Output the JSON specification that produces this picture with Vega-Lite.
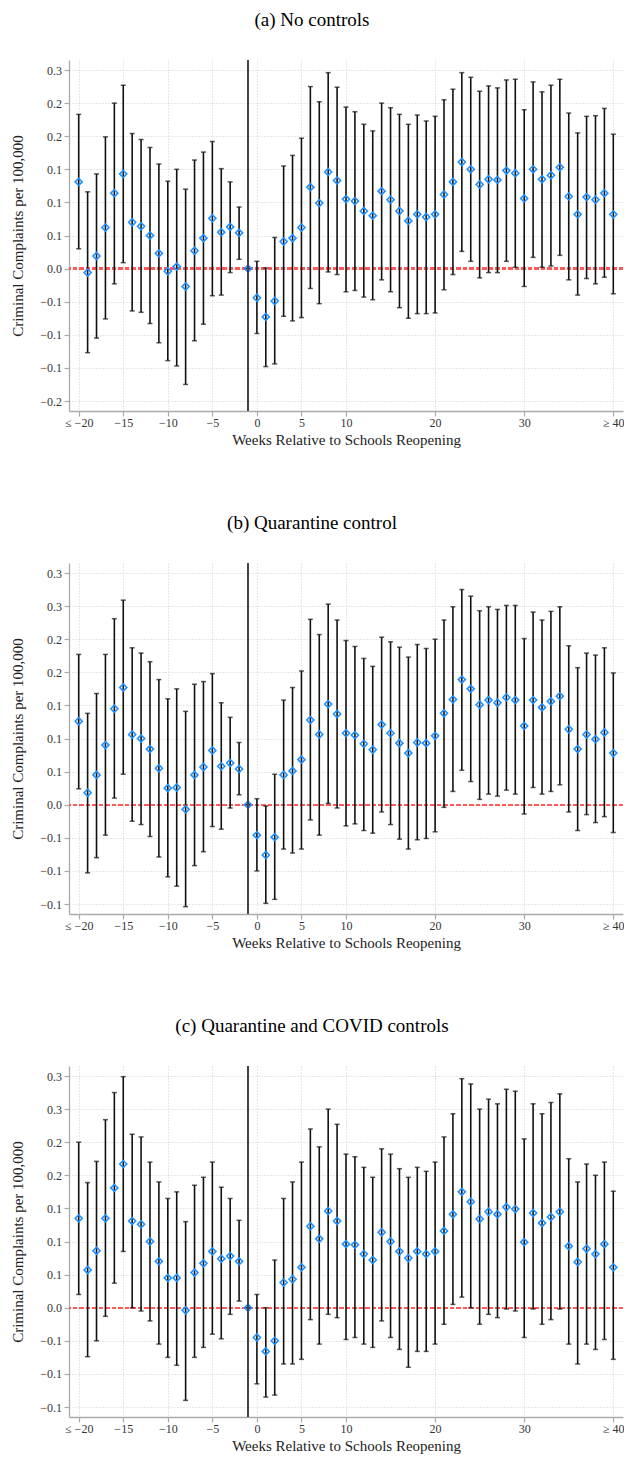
{
  "$schema": "https://vega.github.io/schema/vega-lite/v6.json",
  "padding": {"left": 10, "top": 11, "right": 0, "bottom": 0},
  "spacing": 66,
  "config": {
    "font": "Liberation Serif",
    "view": {"stroke": null},
    "axis": {
      "grid": true,
      "domainColor": "#aaaaaa",
      "domainWidth": 1.3,
      "tickColor": "#aaaaaa",
      "tickWidth": 1.2,
      "tickSize": 5,
      "gridColor": "#cfcfcf",
      "gridDash": [1, 2],
      "gridWidth": 1,
      "labelFont": "Liberation Serif",
      "labelFontSize": 12,
      "labelColor": "#333333",
      "titleFont": "Liberation Serif",
      "titleFontSize": 15,
      "titleFontWeight": "normal",
      "titleColor": "#222222",
      "labelOverlap": false,
      "tickCount": 30
    },
    "axisX": {"labelPadding": 1.5, "titlePadding": 4, "labelFlush": false},
    "axisY": {"labelPadding": 2.5, "titlePadding": 14},
    "title": {"font": "Liberation Serif", "fontSize": 19, "fontWeight": "normal", "color": "#000000", "anchor": "middle", "dx": -34, "offset": 29}
  },
  "datasets": {
    "a": [
      {"week": -20, "est": 0.131, "lo": 0.030, "hi": 0.233},
      {"week": -19, "est": -0.006, "lo": -0.127, "hi": 0.116},
      {"week": -18, "est": 0.019, "lo": -0.105, "hi": 0.143},
      {"week": -17, "est": 0.062, "lo": -0.076, "hi": 0.199},
      {"week": -16, "est": 0.114, "lo": -0.023, "hi": 0.250},
      {"week": -15, "est": 0.143, "lo": 0.009, "hi": 0.277},
      {"week": -14, "est": 0.070, "lo": -0.064, "hi": 0.204},
      {"week": -13, "est": 0.064, "lo": -0.066, "hi": 0.195},
      {"week": -12, "est": 0.050, "lo": -0.083, "hi": 0.183},
      {"week": -11, "est": 0.023, "lo": -0.112, "hi": 0.158},
      {"week": -10, "est": -0.004, "lo": -0.139, "hi": 0.132},
      {"week": -9, "est": 0.003, "lo": -0.147, "hi": 0.150},
      {"week": -8, "est": -0.027, "lo": -0.175, "hi": 0.120},
      {"week": -7, "est": 0.027, "lo": -0.109, "hi": 0.164},
      {"week": -6, "est": 0.046, "lo": -0.084, "hi": 0.176},
      {"week": -5, "est": 0.076, "lo": -0.041, "hi": 0.192},
      {"week": -4, "est": 0.055, "lo": -0.040, "hi": 0.151},
      {"week": -3, "est": 0.063, "lo": -0.006, "hi": 0.131},
      {"week": -2, "est": 0.054, "lo": 0.014, "hi": 0.093},
      {"week": -1, "est": 0, "lo": 0, "hi": 0},
      {"week": 0, "est": -0.044, "lo": -0.098, "hi": 0.011},
      {"week": 1, "est": -0.073, "lo": -0.148, "hi": 0.001},
      {"week": 2, "est": -0.049, "lo": -0.144, "hi": 0.047},
      {"week": 3, "est": 0.041, "lo": -0.072, "hi": 0.155},
      {"week": 4, "est": 0.046, "lo": -0.079, "hi": 0.171},
      {"week": 5, "est": 0.062, "lo": -0.074, "hi": 0.197},
      {"week": 6, "est": 0.123, "lo": -0.030, "hi": 0.275},
      {"week": 7, "est": 0.099, "lo": -0.053, "hi": 0.252},
      {"week": 8, "est": 0.146, "lo": -0.005, "hi": 0.296},
      {"week": 9, "est": 0.133, "lo": -0.009, "hi": 0.274},
      {"week": 10, "est": 0.105, "lo": -0.035, "hi": 0.244},
      {"week": 11, "est": 0.102, "lo": -0.033, "hi": 0.237},
      {"week": 12, "est": 0.087, "lo": -0.043, "hi": 0.218},
      {"week": 13, "est": 0.080, "lo": -0.047, "hi": 0.208},
      {"week": 14, "est": 0.117, "lo": -0.017, "hi": 0.250},
      {"week": 15, "est": 0.104, "lo": -0.035, "hi": 0.243},
      {"week": 16, "est": 0.087, "lo": -0.059, "hi": 0.233},
      {"week": 17, "est": 0.072, "lo": -0.075, "hi": 0.218},
      {"week": 18, "est": 0.082, "lo": -0.068, "hi": 0.232},
      {"week": 19, "est": 0.078, "lo": -0.068, "hi": 0.223},
      {"week": 20, "est": 0.082, "lo": -0.067, "hi": 0.230},
      {"week": 21, "est": 0.112, "lo": -0.032, "hi": 0.255},
      {"week": 22, "est": 0.131, "lo": -0.009, "hi": 0.271},
      {"week": 23, "est": 0.161, "lo": 0.026, "hi": 0.296},
      {"week": 24, "est": 0.150, "lo": 0.011, "hi": 0.289},
      {"week": 25, "est": 0.127, "lo": -0.014, "hi": 0.268},
      {"week": 26, "est": 0.135, "lo": -0.006, "hi": 0.276},
      {"week": 27, "est": 0.134, "lo": -0.006, "hi": 0.273},
      {"week": 28, "est": 0.148, "lo": 0.011, "hi": 0.285},
      {"week": 29, "est": 0.144, "lo": 0.002, "hi": 0.286},
      {"week": 30, "est": 0.106, "lo": -0.027, "hi": 0.240},
      {"week": 31, "est": 0.150, "lo": 0.017, "hi": 0.282},
      {"week": 32, "est": 0.135, "lo": 0.002, "hi": 0.267},
      {"week": 33, "est": 0.141, "lo": 0.004, "hi": 0.277},
      {"week": 34, "est": 0.153, "lo": 0.020, "hi": 0.286},
      {"week": 35, "est": 0.109, "lo": -0.017, "hi": 0.235},
      {"week": 36, "est": 0.082, "lo": -0.040, "hi": 0.205},
      {"week": 37, "est": 0.108, "lo": -0.015, "hi": 0.230},
      {"week": 38, "est": 0.104, "lo": -0.023, "hi": 0.231},
      {"week": 39, "est": 0.114, "lo": -0.013, "hi": 0.242},
      {"week": 40, "est": 0.082, "lo": -0.038, "hi": 0.203}
    ],
    "b": [
      {"week": -20, "est": 0.126, "lo": 0.024, "hi": 0.227},
      {"week": -19, "est": 0.018, "lo": -0.103, "hi": 0.138},
      {"week": -18, "est": 0.045, "lo": -0.080, "hi": 0.168},
      {"week": -17, "est": 0.090, "lo": -0.046, "hi": 0.227},
      {"week": -16, "est": 0.145, "lo": 0.010, "hi": 0.281},
      {"week": -15, "est": 0.177, "lo": 0.046, "hi": 0.309},
      {"week": -14, "est": 0.106, "lo": -0.025, "hi": 0.237},
      {"week": -13, "est": 0.100, "lo": -0.030, "hi": 0.229},
      {"week": -12, "est": 0.084, "lo": -0.048, "hi": 0.216},
      {"week": -11, "est": 0.055, "lo": -0.079, "hi": 0.189},
      {"week": -10, "est": 0.025, "lo": -0.109, "hi": 0.160},
      {"week": -9, "est": 0.026, "lo": -0.123, "hi": 0.175},
      {"week": -8, "est": -0.007, "lo": -0.154, "hi": 0.141},
      {"week": -7, "est": 0.045, "lo": -0.092, "hi": 0.182},
      {"week": -6, "est": 0.057, "lo": -0.071, "hi": 0.186},
      {"week": -5, "est": 0.082, "lo": -0.033, "hi": 0.198},
      {"week": -4, "est": 0.058, "lo": -0.037, "hi": 0.154},
      {"week": -3, "est": 0.063, "lo": -0.005, "hi": 0.132},
      {"week": -2, "est": 0.054, "lo": 0.015, "hi": 0.094},
      {"week": -1, "est": 0, "lo": 0, "hi": 0},
      {"week": 0, "est": -0.046, "lo": -0.100, "hi": 0.009},
      {"week": 1, "est": -0.076, "lo": -0.149, "hi": -0.002},
      {"week": 2, "est": -0.049, "lo": -0.143, "hi": 0.046},
      {"week": 3, "est": 0.045, "lo": -0.067, "hi": 0.158},
      {"week": 4, "est": 0.051, "lo": -0.073, "hi": 0.177},
      {"week": 5, "est": 0.068, "lo": -0.067, "hi": 0.202},
      {"week": 6, "est": 0.128, "lo": -0.023, "hi": 0.280},
      {"week": 7, "est": 0.106, "lo": -0.046, "hi": 0.257},
      {"week": 8, "est": 0.152, "lo": 0.002, "hi": 0.303},
      {"week": 9, "est": 0.137, "lo": -0.005, "hi": 0.279},
      {"week": 10, "est": 0.108, "lo": -0.032, "hi": 0.248},
      {"week": 11, "est": 0.105, "lo": -0.029, "hi": 0.239},
      {"week": 12, "est": 0.092, "lo": -0.039, "hi": 0.221},
      {"week": 13, "est": 0.083, "lo": -0.043, "hi": 0.209},
      {"week": 14, "est": 0.121, "lo": -0.011, "hi": 0.253},
      {"week": 15, "est": 0.108, "lo": -0.030, "hi": 0.246},
      {"week": 16, "est": 0.093, "lo": -0.052, "hi": 0.238},
      {"week": 17, "est": 0.078, "lo": -0.067, "hi": 0.223},
      {"week": 18, "est": 0.094, "lo": -0.053, "hi": 0.242},
      {"week": 19, "est": 0.093, "lo": -0.051, "hi": 0.236},
      {"week": 20, "est": 0.104, "lo": -0.041, "hi": 0.250},
      {"week": 21, "est": 0.138, "lo": -0.004, "hi": 0.279},
      {"week": 22, "est": 0.159, "lo": 0.020, "hi": 0.299},
      {"week": 23, "est": 0.189, "lo": 0.052, "hi": 0.325},
      {"week": 24, "est": 0.175, "lo": 0.035, "hi": 0.315},
      {"week": 25, "est": 0.151, "lo": 0.008, "hi": 0.293},
      {"week": 26, "est": 0.158, "lo": 0.016, "hi": 0.299},
      {"week": 27, "est": 0.154, "lo": 0.013, "hi": 0.295},
      {"week": 28, "est": 0.162, "lo": 0.022, "hi": 0.301},
      {"week": 29, "est": 0.158, "lo": 0.016, "hi": 0.301},
      {"week": 30, "est": 0.119, "lo": -0.014, "hi": 0.251},
      {"week": 31, "est": 0.158, "lo": 0.026, "hi": 0.291},
      {"week": 32, "est": 0.147, "lo": 0.016, "hi": 0.279},
      {"week": 33, "est": 0.156, "lo": 0.020, "hi": 0.292},
      {"week": 34, "est": 0.164, "lo": 0.030, "hi": 0.299},
      {"week": 35, "est": 0.114, "lo": -0.011, "hi": 0.240},
      {"week": 36, "est": 0.084, "lo": -0.039, "hi": 0.207},
      {"week": 37, "est": 0.106, "lo": -0.015, "hi": 0.229},
      {"week": 38, "est": 0.099, "lo": -0.027, "hi": 0.226},
      {"week": 39, "est": 0.109, "lo": -0.018, "hi": 0.237},
      {"week": 40, "est": 0.078, "lo": -0.042, "hi": 0.199}
    ],
    "c": [
      {"week": -20, "est": 0.135, "lo": 0.020, "hi": 0.250},
      {"week": -19, "est": 0.057, "lo": -0.074, "hi": 0.189},
      {"week": -18, "est": 0.086, "lo": -0.050, "hi": 0.221},
      {"week": -17, "est": 0.135, "lo": -0.013, "hi": 0.284},
      {"week": -16, "est": 0.181, "lo": 0.037, "hi": 0.325},
      {"week": -15, "est": 0.217, "lo": 0.085, "hi": 0.349},
      {"week": -14, "est": 0.131, "lo": 0.000, "hi": 0.262},
      {"week": -13, "est": 0.126, "lo": -0.005, "hi": 0.258},
      {"week": -12, "est": 0.100, "lo": -0.020, "hi": 0.220},
      {"week": -11, "est": 0.070, "lo": -0.055, "hi": 0.190},
      {"week": -10, "est": 0.045, "lo": -0.075, "hi": 0.165},
      {"week": -9, "est": 0.045, "lo": -0.087, "hi": 0.175},
      {"week": -8, "est": -0.004, "lo": -0.140, "hi": 0.130},
      {"week": -7, "est": 0.053, "lo": -0.075, "hi": 0.185},
      {"week": -6, "est": 0.067, "lo": -0.060, "hi": 0.197},
      {"week": -5, "est": 0.085, "lo": -0.040, "hi": 0.220},
      {"week": -4, "est": 0.074, "lo": -0.047, "hi": 0.182},
      {"week": -3, "est": 0.078, "lo": -0.010, "hi": 0.165},
      {"week": -2, "est": 0.070, "lo": 0.010, "hi": 0.132},
      {"week": -1, "est": 0, "lo": 0, "hi": 0},
      {"week": 0, "est": -0.045, "lo": -0.115, "hi": 0.020},
      {"week": 1, "est": -0.066, "lo": -0.135, "hi": 0.000},
      {"week": 2, "est": -0.050, "lo": -0.132, "hi": 0.072},
      {"week": 3, "est": 0.038, "lo": -0.085, "hi": 0.165},
      {"week": 4, "est": 0.043, "lo": -0.085, "hi": 0.190},
      {"week": 5, "est": 0.061, "lo": -0.078, "hi": 0.220},
      {"week": 6, "est": 0.123, "lo": -0.018, "hi": 0.270},
      {"week": 7, "est": 0.104, "lo": -0.055, "hi": 0.243},
      {"week": 8, "est": 0.146, "lo": -0.010, "hi": 0.300},
      {"week": 9, "est": 0.131, "lo": -0.015, "hi": 0.277},
      {"week": 10, "est": 0.096, "lo": -0.048, "hi": 0.232},
      {"week": 11, "est": 0.095, "lo": -0.045, "hi": 0.228},
      {"week": 12, "est": 0.081, "lo": -0.055, "hi": 0.212},
      {"week": 13, "est": 0.072, "lo": -0.060, "hi": 0.197},
      {"week": 14, "est": 0.114, "lo": -0.020, "hi": 0.240},
      {"week": 15, "est": 0.100, "lo": -0.045, "hi": 0.232},
      {"week": 16, "est": 0.085, "lo": -0.063, "hi": 0.210},
      {"week": 17, "est": 0.075, "lo": -0.090, "hi": 0.197},
      {"week": 18, "est": 0.085, "lo": -0.066, "hi": 0.212},
      {"week": 19, "est": 0.081, "lo": -0.066, "hi": 0.206},
      {"week": 20, "est": 0.085, "lo": -0.055, "hi": 0.220},
      {"week": 21, "est": 0.116, "lo": -0.025, "hi": 0.258},
      {"week": 22, "est": 0.141, "lo": 0.005, "hi": 0.293},
      {"week": 23, "est": 0.175, "lo": 0.016, "hi": 0.346},
      {"week": 24, "est": 0.160, "lo": 0.000, "hi": 0.338},
      {"week": 25, "est": 0.134, "lo": -0.025, "hi": 0.300},
      {"week": 26, "est": 0.145, "lo": -0.010, "hi": 0.315},
      {"week": 27, "est": 0.141, "lo": -0.015, "hi": 0.308},
      {"week": 28, "est": 0.152, "lo": -0.002, "hi": 0.330},
      {"week": 29, "est": 0.149, "lo": -0.005, "hi": 0.327},
      {"week": 30, "est": 0.099, "lo": -0.045, "hi": 0.255},
      {"week": 31, "est": 0.143, "lo": -0.002, "hi": 0.308},
      {"week": 32, "est": 0.128, "lo": -0.025, "hi": 0.293},
      {"week": 33, "est": 0.137, "lo": -0.018, "hi": 0.310},
      {"week": 34, "est": 0.145, "lo": -0.002, "hi": 0.323},
      {"week": 35, "est": 0.093, "lo": -0.055, "hi": 0.225},
      {"week": 36, "est": 0.069, "lo": -0.085, "hi": 0.190},
      {"week": 37, "est": 0.089, "lo": -0.055, "hi": 0.217},
      {"week": 38, "est": 0.081, "lo": -0.063, "hi": 0.200},
      {"week": 39, "est": 0.096, "lo": -0.048, "hi": 0.220},
      {"week": 40, "est": 0.061, "lo": -0.078, "hi": 0.176}
    ]
  },
  "vconcat": [
    {
      "title": {"text": "(a) No controls"},
      "width": 554,
      "height": 351,
      "data": {"name": "a"},
      "layer": [
        {
          "mark": {"type": "rule", "color": "#ff5a5a", "strokeDash": [4, 2.5], "strokeWidth": 1.5},
          "encoding": {"y": {"datum": 0, "type": "quantitative", "title": "Criminal Complaints per 100,000"}}
        },
        {
          "mark": {"type": "rule", "color": "#111111", "strokeWidth": 1.6},
          "encoding": {
            "x": {"field": "week", "type": "quantitative", "title": "Weeks Relative to Schools Reopening",
              "scale": {"domain": [-20, 40], "nice": false, "zero": false, "padding": 9.7},
              "axis": {"values": [-20, -15, -10, -5, 0, 5, 10, 20, 30, 40], "labelOverlap": false, "tickCount": 30,
                "labelExpr": "datum.value == -20 ? '≤ −20' : datum.value == 40 ? '≥ 40' : replace(format(datum.value, 'd'), '-', '−')"}},
            "y": {"field": "lo", "type": "quantitative", "title": "Criminal Complaints per 100,000",
              "scale": {"domain": [-0.2, 0.3], "nice": false, "zero": false, "padding": 10},
              "axis": {"values": [-0.2, -0.15, -0.1, -0.05, 0, 0.05, 0.1, 0.15, 0.2, 0.25, 0.3], "labelOverlap": false, "tickCount": 30,
                "labelExpr": "round(datum.value*100) <= -20 ? '−0.2' : round(datum.value*100) < 0 ? '−0.1' : round(datum.value*100) == 0 ? '0.0' : round(datum.value*100) <= 15 ? '0.1' : round(datum.value*100) <= 25 ? '0.2' : '0.3'"}},
            "y2": {"field": "hi"}
          }
        },
        {
          "mark": {"type": "tick", "orient": "horizontal", "color": "#111111", "size": 5, "thickness": 1.5},
          "encoding": {"x": {"field": "week", "type": "quantitative", "title": "Weeks Relative to Schools Reopening"}, "y": {"field": "lo", "type": "quantitative", "title": "Criminal Complaints per 100,000"}}
        },
        {
          "mark": {"type": "tick", "orient": "horizontal", "color": "#111111", "size": 5, "thickness": 1.5},
          "encoding": {"x": {"field": "week", "type": "quantitative", "title": "Weeks Relative to Schools Reopening"}, "y": {"field": "hi", "type": "quantitative", "title": "Criminal Complaints per 100,000"}}
        },
        {
          "mark": {"type": "point", "shape": "diamond", "filled": false, "color": "#1e90ff", "strokeWidth": 1.6, "size": 50, "opacity": 1},
          "encoding": {"x": {"field": "week", "type": "quantitative", "title": "Weeks Relative to Schools Reopening"}, "y": {"field": "est", "type": "quantitative", "title": "Criminal Complaints per 100,000"}}
        },
        {
          "mark": {"type": "rule", "color": "#444444", "strokeWidth": 1.2},
          "encoding": {"x": {"datum": -1, "type": "quantitative", "title": "Weeks Relative to Schools Reopening"}}
        }
      ]
    },
    {
      "title": {"text": "(b) Quarantine control"},
      "width": 554,
      "height": 351,
      "data": {"name": "b"},
      "layer": [
        {
          "mark": {"type": "rule", "color": "#ff5a5a", "strokeDash": [4, 2.5], "strokeWidth": 1.5},
          "encoding": {"y": {"datum": 0, "type": "quantitative", "title": "Criminal Complaints per 100,000"}}
        },
        {
          "mark": {"type": "rule", "color": "#111111", "strokeWidth": 1.6},
          "encoding": {
            "x": {"field": "week", "type": "quantitative", "title": "Weeks Relative to Schools Reopening",
              "scale": {"domain": [-20, 40], "nice": false, "zero": false, "padding": 9.7},
              "axis": {"values": [-20, -15, -10, -5, 0, 5, 10, 20, 30, 40], "labelOverlap": false, "tickCount": 30,
                "labelExpr": "datum.value == -20 ? '≤ −20' : datum.value == 40 ? '≥ 40' : replace(format(datum.value, 'd'), '-', '−')"}},
            "y": {"field": "lo", "type": "quantitative", "title": "Criminal Complaints per 100,000",
              "scale": {"domain": [-0.15, 0.35], "nice": false, "zero": false, "padding": 10},
              "axis": {"values": [-0.15, -0.1, -0.05, 0, 0.05, 0.1, 0.15, 0.2, 0.25, 0.3, 0.35], "labelOverlap": false, "tickCount": 30,
                "labelExpr": "round(datum.value*100) <= -20 ? '−0.2' : round(datum.value*100) < 0 ? '−0.1' : round(datum.value*100) == 0 ? '0.0' : round(datum.value*100) <= 15 ? '0.1' : round(datum.value*100) <= 25 ? '0.2' : '0.3'"}},
            "y2": {"field": "hi"}
          }
        },
        {
          "mark": {"type": "tick", "orient": "horizontal", "color": "#111111", "size": 5, "thickness": 1.5},
          "encoding": {"x": {"field": "week", "type": "quantitative", "title": "Weeks Relative to Schools Reopening"}, "y": {"field": "lo", "type": "quantitative", "title": "Criminal Complaints per 100,000"}}
        },
        {
          "mark": {"type": "tick", "orient": "horizontal", "color": "#111111", "size": 5, "thickness": 1.5},
          "encoding": {"x": {"field": "week", "type": "quantitative", "title": "Weeks Relative to Schools Reopening"}, "y": {"field": "hi", "type": "quantitative", "title": "Criminal Complaints per 100,000"}}
        },
        {
          "mark": {"type": "point", "shape": "diamond", "filled": false, "color": "#1e90ff", "strokeWidth": 1.6, "size": 50, "opacity": 1},
          "encoding": {"x": {"field": "week", "type": "quantitative", "title": "Weeks Relative to Schools Reopening"}, "y": {"field": "est", "type": "quantitative", "title": "Criminal Complaints per 100,000"}}
        },
        {
          "mark": {"type": "rule", "color": "#444444", "strokeWidth": 1.2},
          "encoding": {"x": {"datum": -1, "type": "quantitative", "title": "Weeks Relative to Schools Reopening"}}
        }
      ]
    },
    {
      "title": {"text": "(c) Quarantine and COVID controls"},
      "width": 554,
      "height": 351,
      "data": {"name": "c"},
      "layer": [
        {
          "mark": {"type": "rule", "color": "#ff5a5a", "strokeDash": [4, 2.5], "strokeWidth": 1.5},
          "encoding": {"y": {"datum": 0, "type": "quantitative", "title": "Criminal Complaints per 100,000"}}
        },
        {
          "mark": {"type": "rule", "color": "#111111", "strokeWidth": 1.6},
          "encoding": {
            "x": {"field": "week", "type": "quantitative", "title": "Weeks Relative to Schools Reopening",
              "scale": {"domain": [-20, 40], "nice": false, "zero": false, "padding": 9.7},
              "axis": {"values": [-20, -15, -10, -5, 0, 5, 10, 20, 30, 40], "labelOverlap": false, "tickCount": 30,
                "labelExpr": "datum.value == -20 ? '≤ −20' : datum.value == 40 ? '≥ 40' : replace(format(datum.value, 'd'), '-', '−')"}},
            "y": {"field": "lo", "type": "quantitative", "title": "Criminal Complaints per 100,000",
              "scale": {"domain": [-0.15, 0.35], "nice": false, "zero": false, "padding": 10},
              "axis": {"values": [-0.15, -0.1, -0.05, 0, 0.05, 0.1, 0.15, 0.2, 0.25, 0.3, 0.35], "labelOverlap": false, "tickCount": 30,
                "labelExpr": "round(datum.value*100) <= -20 ? '−0.2' : round(datum.value*100) < 0 ? '−0.1' : round(datum.value*100) == 0 ? '0.0' : round(datum.value*100) <= 15 ? '0.1' : round(datum.value*100) <= 25 ? '0.2' : '0.3'"}},
            "y2": {"field": "hi"}
          }
        },
        {
          "mark": {"type": "tick", "orient": "horizontal", "color": "#111111", "size": 5, "thickness": 1.5},
          "encoding": {"x": {"field": "week", "type": "quantitative", "title": "Weeks Relative to Schools Reopening"}, "y": {"field": "lo", "type": "quantitative", "title": "Criminal Complaints per 100,000"}}
        },
        {
          "mark": {"type": "tick", "orient": "horizontal", "color": "#111111", "size": 5, "thickness": 1.5},
          "encoding": {"x": {"field": "week", "type": "quantitative", "title": "Weeks Relative to Schools Reopening"}, "y": {"field": "hi", "type": "quantitative", "title": "Criminal Complaints per 100,000"}}
        },
        {
          "mark": {"type": "point", "shape": "diamond", "filled": false, "color": "#1e90ff", "strokeWidth": 1.6, "size": 50, "opacity": 1},
          "encoding": {"x": {"field": "week", "type": "quantitative", "title": "Weeks Relative to Schools Reopening"}, "y": {"field": "est", "type": "quantitative", "title": "Criminal Complaints per 100,000"}}
        },
        {
          "mark": {"type": "rule", "color": "#444444", "strokeWidth": 1.2},
          "encoding": {"x": {"datum": -1, "type": "quantitative", "title": "Weeks Relative to Schools Reopening"}}
        }
      ]
    }
  ]
}
